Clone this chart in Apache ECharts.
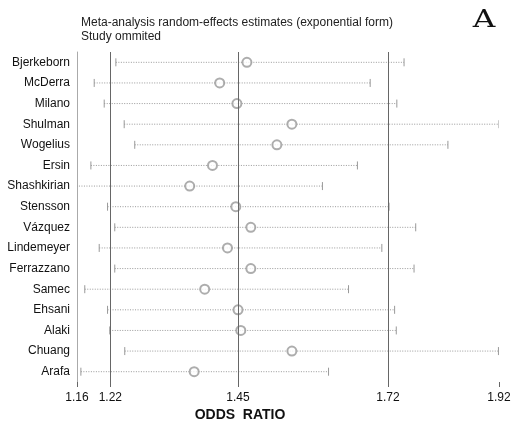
<!DOCTYPE html>
<html lang="en">
<head>
    <meta charset="UTF-8">
    <title>Study omitted</title>
    <script src="https://cdn.jsdelivr.net/npm/echarts@6/dist/echarts.min.js"></script>
    <style>
        html, body { margin: 0; padding: 0; background: #fff; }
        #main { width: 517px; height: 423px; }
    </style>
</head>
<body>
<div id="main"></div>
<script type="text/javascript">
    // data
    var studies = ['Bjerkeborn', 'McDerra', 'Milano', 'Shulman', 'Wogelius', 'Ersin', 'Shashkirian', 'Stensson',
        'Vázquez', 'Lindemeyer', 'Ferrazzano', 'Samec', 'Ehsani', 'Alaki', 'Chuang', 'Arafa'];
    var estimate = [1.466, 1.417, 1.448, 1.547, 1.520, 1.404, 1.363, 1.446, 1.473, 1.431, 1.473, 1.390, 1.450, 1.455, 1.547, 1.371];
    var lower = [1.230, 1.191, 1.209, 1.245, 1.264, 1.185, 1.150, 1.215, 1.228, 1.200, 1.228, 1.174, 1.215, 1.219, 1.246, 1.167];
    var upper = [1.749, 1.688, 1.736, 1.920, 1.828, 1.665, 1.602, 1.722, 1.770, 1.709, 1.767, 1.649, 1.732, 1.735, 1.919, 1.613];
    var tickValues = [1.16, 1.22, 1.45, 1.72, 1.92];
    var refLines = [1.22, 1.45, 1.72];

    var ciData = studies.map(function (s, i) { return [lower[i], upper[i], i]; });
    var pointData = studies.map(function (s, i) { return [estimate[i], i]; });

    var font = '"Liberation Sans", Arial, Helvetica, sans-serif';
    var myChart = echarts.init(document.getElementById('main'));

    var option = {
        animation: false,
        title: {
            text: 'Meta-analysis random-effects estimates (exponential form)\nStudy ommited',
            left: 81,
            top: 16,
            padding: 0,
            textStyle: { fontFamily: font, fontSize: 12, fontWeight: 'normal', color: '#222', lineHeight: 14 }
        },
        graphic: [
            {
                type: 'text', x: 484, y: 20, scaleX: 1.25,
                style: { text: 'A', font: '25px "DejaVu Serif", "Liberation Serif", serif', fill: '#111', align: 'center', verticalAlign: 'middle' }
            },
            {
                type: 'text', x: 240, y: 415,
                style: { text: 'ODDS  RATIO', font: 'bold 14px ' + font, fill: '#111', align: 'center', verticalAlign: 'middle' }
            }
        ],
        grid: { left: 77, right: 18, top: 52, bottom: 41 },
        xAxis: {
            type: 'value',
            min: 1.16,
            max: 1.92,
            splitLine: { show: false },
            axisLine: { lineStyle: { color: '#999' } },
            axisTick: { show: true, customValues: tickValues, length: 5, lineStyle: { color: '#666', width: 1 } },
            axisLabel: {
                customValues: tickValues, margin: 10, fontFamily: font, fontSize: 12, color: '#111',
                formatter: function (v) { return v.toFixed(2); }
            }
        },
        yAxis: {
            type: 'category',
            data: studies,
            inverse: true,
            axisLine: { show: true, lineStyle: { color: '#aaa' } },
            axisTick: { show: false },
            axisLabel: { margin: 7, fontFamily: font, fontSize: 12, color: '#111' }
        },
        series: [
            {
                type: 'custom',
                clip: true,
                silent: true,
                data: ciData,
                encode: { x: [0, 1], y: 2 },
                renderItem: function (params, api) {
                    var a = api.coord([api.value(0), api.value(2)]);
                    var b = api.coord([api.value(1), api.value(2)]);
                    var h = 4;
                    return {
                        type: 'group',
                        children: [
                            { type: 'line', shape: { x1: a[0], y1: a[1], x2: b[0], y2: b[1] },
                              style: { stroke: '#999', lineWidth: 1, lineDash: [1, 1.5] } },
                            { type: 'line', shape: { x1: a[0], y1: a[1] - h, x2: a[0], y2: a[1] + h },
                              style: { stroke: '#999', lineWidth: 1 } },
                            { type: 'line', shape: { x1: b[0], y1: b[1] - h, x2: b[0], y2: b[1] + h },
                              style: { stroke: '#999', lineWidth: 1 } }
                        ]
                    };
                }
            },
            {
                type: 'scatter',
                data: pointData,
                symbol: 'emptyCircle',
                symbolSize: 9,
                silent: true,
                itemStyle: { color: '#999', borderColor: '#999', borderWidth: 0.8 },
                markLine: {
                    silent: true,
                    symbol: 'none',
                    label: { show: false },
                    lineStyle: { color: '#666', type: 'solid', width: 1 },
                    data: refLines.map(function (v) { return { xAxis: v }; })
                }
            }
        ]
    };

    option && myChart.setOption(option);
</script>
</body>
</html>
